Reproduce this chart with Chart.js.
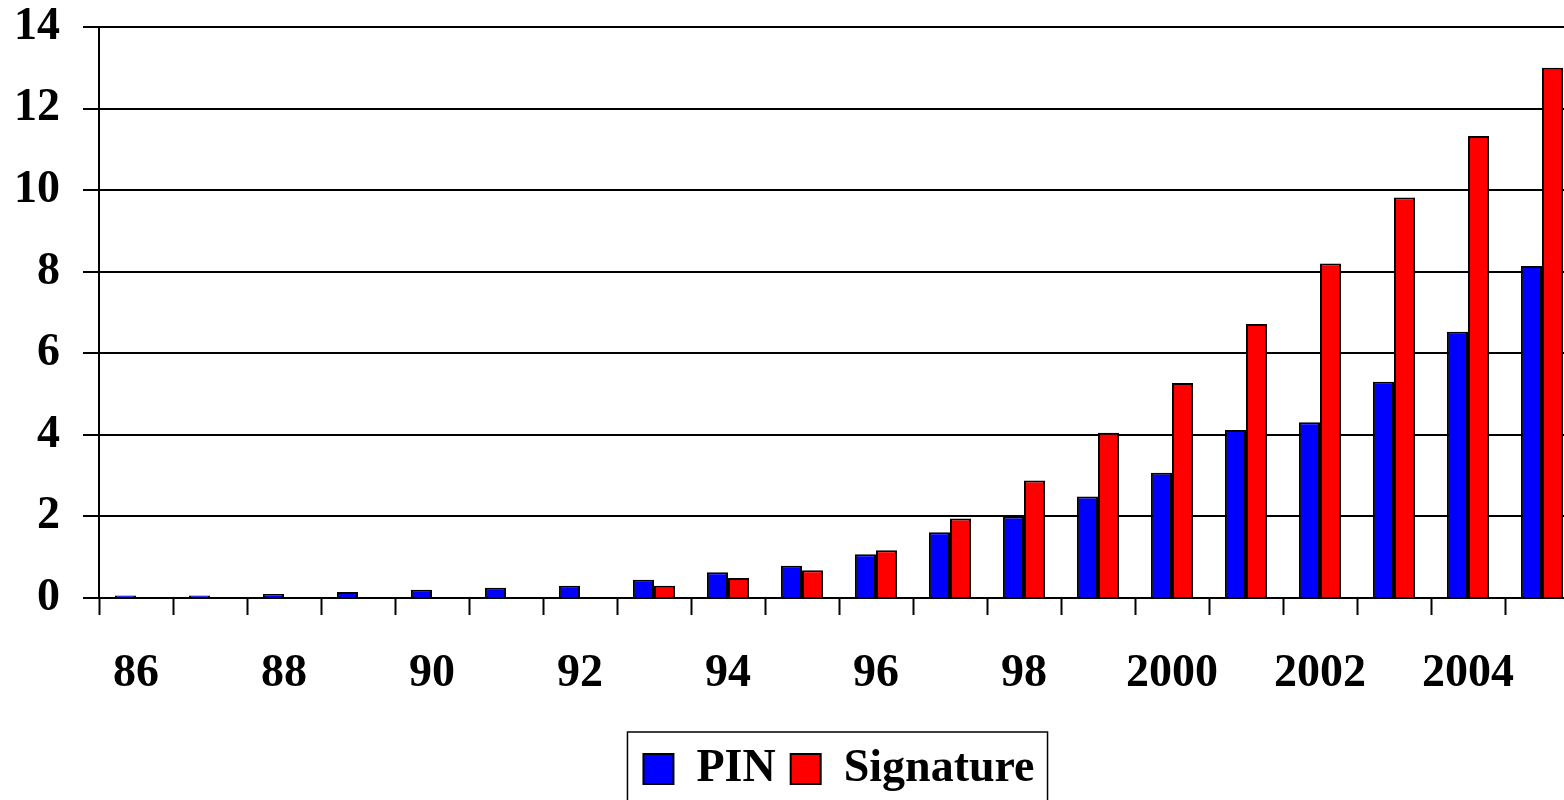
<!DOCTYPE html>
<html>
<head>
<meta charset="utf-8">
<script src="https://cdn.jsdelivr.net/npm/chart.js@4.4.1/dist/chart.umd.min.js"></script>
<style>
  html, body { margin: 0; padding: 0; overflow: hidden; background: #ffffff; }
  #wrap { width: 1580px; height: 802px; position: relative; }
</style>
</head>
<body>
<div id="wrap"><canvas id="c"></canvas></div>
<script>
// Years on the category axis (1986 .. 2005)
const years = ['86', '87', '88', '89', '90', '91', '92', '93', '94', '95',
               '96', '97', '98', '99', '2000', '2001', '2002', '2003', '2004', '2005'];

// Values per year
const pin = [0.06, 0.06, 0.10, 0.15, 0.20, 0.25, 0.30, 0.45, 0.63, 0.79,
             1.07, 1.61, 2.00, 2.49, 3.07, 4.12, 4.31, 5.30, 6.53, 8.14];
const signature = [null, null, null, null, null, null, null, 0.30, 0.49, 0.68,
                   1.17, 1.95, 2.88, 4.05, 5.27, 6.72, 8.20, 9.82, 11.33, 13.00];

// Value axis ticks
const yTicks = [0, 2, 4, 6, 8, 10, 12, 14];

const FONT = { family: '"Liberation Serif", "Times New Roman", serif', size: 46, weight: 'bold', lineHeight: 1.2 };

// Frame drawn around the legend row
const legendFrame = {
  id: 'legendFrame',
  afterDraw(chart) {
    const lg = chart.legend;
    if (!lg || !lg.legendHitBoxes || !lg.legendHitBoxes.length) return;
    const boxes = lg.legendHitBoxes;
    const first = boxes[0];
    const last = boxes[boxes.length - 1];
    const left = first.left - 16;
    const right = last.left + last.width + 13;
    const top = lg.top + 1;
    const ctx = chart.ctx;
    ctx.save();
    ctx.strokeStyle = '#000000';
    ctx.lineWidth = 1.5;
    ctx.strokeRect(left, top, right - left, chart.height - top + 20);
    ctx.restore();
  }
};

new Chart(document.getElementById('c'), {
  type: 'bar',
  data: {
    labels: years,
    datasets: [
      { label: 'PIN', data: pin, backgroundColor: '#0000FF', borderColor: '#000000', borderWidth: 2 },
      { label: 'Signature', data: signature, backgroundColor: '#FF0000', borderColor: '#000000', borderWidth: 2 }
    ]
  },
  options: {
    responsive: true,
    maintainAspectRatio: false,
    animation: false,
    datasets: { bar: { barPercentage: 1.0, categoryPercentage: 0.57 } },
    layout: { padding: { top: 0, left: 0, right: 1, bottom: 0 } },
    plugins: {
      tooltip: { enabled: false },
      legend: {
        position: 'bottom',
        fullSize: false,
        labels: {
          boxWidth: 30,
          boxHeight: 30,
          padding: 15,
          color: '#000000',
          font: FONT
        }
      }
    },
    scales: {
      x: {
        offset: true,
        grid: {
          offset: true,
          drawOnChartArea: false,
          drawTicks: true,
          tickLength: 17,
          tickWidth: 2,
          tickColor: '#000000'
        },
        border: { display: true, color: '#000000', width: 2 },
        ticks: {
          autoSkip: false,
          maxRotation: 0,
          minRotation: 0,
          padding: 32,
          color: '#000000',
          font: FONT,
          callback: function (v, i) { return i % 2 === 0 ? this.getLabelForValue(v) : ''; }
        },
        afterFit(scale) {
          scale.height = 133;
          scale.paddingLeft = 0;
          scale.paddingRight = 0;
        }
      },
      y: {
        min: yTicks[0],
        max: yTicks[yTicks.length - 1],
        afterBuildTicks(scale) { scale.ticks = yTicks.map(v => ({ value: v })); },
        grid: {
          color: '#000000',
          lineWidth: 2,
          drawTicks: true,
          tickLength: 16,
          tickWidth: 2,
          tickColor: '#000000'
        },
        border: { display: true, color: '#000000', width: 2 },
        ticks: {
          padding: 23,
          color: '#000000',
          font: FONT
        },
        afterFit(scale) {
          scale.width = 99;
          scale.paddingTop = 27;
          scale.paddingBottom = 0;
        }
      }
    }
  },
  plugins: [legendFrame]
});
</script>
</body>
</html>
